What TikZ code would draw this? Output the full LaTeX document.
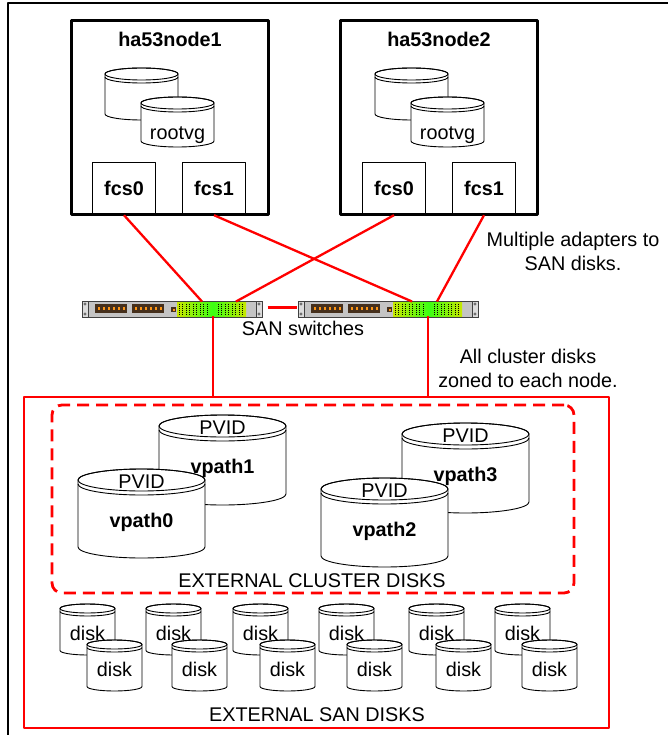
\documentclass[tikz,border=0pt]{standalone}
\usepackage{fontspec}
\setmainfont{Liberation Sans}
\usetikzlibrary{calc}

\definecolor{swbodyc}{RGB}{196,196,196}
\definecolor{swearc}{RGB}{220,220,220}
\definecolor{portdark}{RGB}{70,48,28}
\definecolor{portorange}{RGB}{255,150,20}
\definecolor{swyg}{RGB}{200,232,0}
\definecolor{swglow}{RGB}{60,255,20}

% disk drum: left x, top y, width, height, ellipse half-height, rim gap
\newcommand\drum[6]{%
  \pgfmathsetmacro\drumrx{#3/2}%
  \pgfmathsetmacro\drumcx{#1+#3/2}%
  \pgfmathsetmacro\drumtop{#2+#5}%
  \pgfmathsetmacro\drumbot{#2+#4-#5}%
  \pgfmathsetmacro\drumrim{#2+#5+#6}%
  \filldraw[drumline, fill=white] (#1,\drumtop) -- (#1,\drumbot)
     arc[start angle=180, end angle=0, x radius=\drumrx, y radius=#5]
     -- (#1+#3,\drumtop)
     arc[start angle=0, end angle=-180, x radius=\drumrx, y radius=#5] -- cycle;
  \draw[drumline] (\drumcx,\drumtop) ellipse [x radius=\drumrx, y radius=#5];
  \draw[drumline] (#1,\drumrim) arc[start angle=180, end angle=0, x radius=\drumrx, y radius=#5];
}

% rack-mount SAN switch: name, left x, top y
\newcommand\sanswitch[3]{%
  \begin{scope}[shift={(#2,#3)}]
    \node[swbody, anchor=north west] (#1) at (0,0) {};
    \filldraw[swedge, fill=swearc] (0,0) rectangle (6,16) (174,0) rectangle (180,16);
    \foreach \ex in {3,177}{\foreach \ey in {3,13}{\filldraw[swedge, fill=white] (\ex,\ey) circle (1.2);}}
    \fill[portdark] (13,3) rectangle (45,12);
    \fill[portdark] (50,3) rectangle (82,12);
    \foreach \i in {0,...,5}{
      \fill[portorange] ({15.5+\i*5},6) rectangle ++(2,3);
      \fill[portorange] ({52.5+\i*5},6) rectangle ++(2,3);
    }
    \fill[portdark] (89,6) rectangle (94,11);
    \fill[portorange] (90.5,7.5) rectangle (92.5,9.5);
    \shade[left color=swyg, right color=swglow] (95,1) rectangle (131,15);
    \shade[left color=swglow, right color=swyg] (131,1) rectangle (164,15);
    \foreach \px in {97,100.5,...,125}{\draw[portdot] (\px,2.5) -- (\px,14);}
    \foreach \px in {136,139.5,...,163}{\draw[portdot] (\px,2.5) -- (\px,14);}
  \end{scope}
}

\begin{document}
\begin{tikzpicture}[x=1pt, y=-1pt, line join=round,
  lbl/.style={font=\fontsize{19.8}{23}\selectfont, inner sep=0pt, anchor=base},
  blbl/.style={lbl, font=\fontsize{19.8}{23}\selectfont\bfseries},
  hostbox/.style={draw, line width=3pt, minimum width=197pt, minimum height=194pt, inner sep=0pt},
  adapter/.style={draw, fill=white, line width=1.4pt, minimum width=63pt, minimum height=52pt,
                  inner sep=0pt, font=\fontsize{19.8}{23}\selectfont\bfseries},
  drumline/.style={black, line width=0.9pt},
  fibre/.style={red, line width=2.3pt},
  swbody/.style={draw=black!75, fill=swbodyc, line width=0.7pt, minimum width=180pt,
                 minimum height=16pt, inner sep=0pt},
  swedge/.style={draw=black!75, line width=0.6pt},
  portdot/.style={black, line width=0.9pt, dash pattern=on 1pt off 1pt},
  zone/.style={draw=red, line width=2.8pt, dash pattern=on 12pt off 7pt, rounded corners=10pt,
               minimum width=522pt, minimum height=188pt, inner sep=0pt},
  sanarea/.style={draw=red, line width=2pt, minimum width=585pt, minimum height=331pt, inner sep=0pt}]

\useasboundingbox (0,0) rectangle (667,735);

% page frame
\draw[line width=1.3pt] (680,3) -- (8,3) -- (8,750);

% ---- host ha53node1 ----
\node[adapter] (n1fcs0) at (124,188.5) {fcs0};
\node[adapter] (n1fcs1) at (214,188.5) {fcs1};
\node[hostbox] (host1) at (170,117.5) {};
\node[blbl] (host1name) at (170,47) {ha53node1};
\drum{105}{68}{73}{52}{6}{3}
\drum{141}{97}{73}{50}{6}{3}
\node[lbl] (host1vg) at (177.5,140) {rootvg};

% ---- host ha53node2 ----
\node[adapter] (n2fcs0) at (394,188.5) {fcs0};
\node[adapter] (n2fcs1) at (484,188.5) {fcs1};
\node[hostbox] (host2) at (439,117.5) {};
\node[blbl] (host2name) at (439,47) {ha53node2};
\drum{375}{68}{73}{52}{6}{3}
\drum{411}{97}{73}{50}{6}{3}
\node[lbl] (host2vg) at (447.5,140) {rootvg};

% ---- SAN switches ----
\sanswitch{sw1}{82}{301}
\sanswitch{sw2}{298}{301}
\node[lbl] (swlabel) at (303,335) {SAN switches};

\coordinate (sw1a) at (202,301.5);
\coordinate (sw1b) at (236,301.5);
\coordinate (sw2a) at (412,301.5);
\coordinate (sw2b) at (437,301.5);
\coordinate (sw1d) at (213,316);
\coordinate (sw2d) at (428,316);

% fibre links from adapters to switches
\draw[fibre] (n1fcs0.south) -- (sw1a);
\draw[fibre] (n2fcs0.south) -- (sw1b);
\draw[fibre] (n1fcs1.south) -- (sw2a);
\draw[fibre] (n2fcs1.south) -- (sw2b);
\draw[fibre, shorten <=5pt, shorten >=1pt] ([yshift=2pt]sw1.east) -- ([yshift=2pt]sw2.west);

\node[lbl] (note1a) at (573,246) {Multiple adapters to};
\node[lbl] (note1b) at (573,270) {SAN disks.};
\node[lbl] (note2a) at (528,363) {All cluster disks};
\node[lbl] (note2b) at (528,387) {zoned to each node.};

% ---- storage ----
\node[sanarea] (sanbox) at (316.5,562.5) {};
\draw[fibre] (sw1d) -- (sw1d |- sanbox.north);
\draw[fibre] (sw2d) -- (sw2d |- sanbox.north);

\node[zone] (cluster) at (313,499) {};

\drum{159}{415}{127}{90}{11}{4}
\node[lbl] (pv1) at (222.5,434) {PVID};
\node[blbl] (vp1) at (222.5,473) {vpath1};
\drum{78}{469}{127}{89}{11}{4}
\node[lbl] (pv0) at (141.5,488) {PVID};
\node[blbl] (vp0) at (141.5,527) {vpath0};
\drum{402}{423}{127}{90}{11}{4}
\node[lbl] (pv3) at (465.5,442) {PVID};
\node[blbl] (vp3) at (465.5,481) {vpath3};
\drum{321}{478}{127}{89}{11}{4}
\node[lbl] (pv2) at (384.5,497) {PVID};
\node[blbl] (vp2) at (384.5,536) {vpath2};

\node[lbl] (clusterlabel) at (312,587) {EXTERNAL CLUSTER DISKS};

% pool of SAN disks, back row then front row of each pair
\foreach \bx/\fx [count=\k] in {60/87, 146/172, 233/260, 319/347, 409/436, 495/522}{
  \drum{\bx}{604}{55}{51}{4.5}{3}
  \node[lbl] (dback\k) at (\bx+27.5,640) {disk};
  \drum{\fx}{640}{55}{51}{4.5}{3}
  \node[lbl] (dfront\k) at (\fx+27.5,676) {disk};
}

\node[lbl] (sanlabel) at (317,721) {EXTERNAL SAN DISKS};

\end{tikzpicture}
\end{document}
